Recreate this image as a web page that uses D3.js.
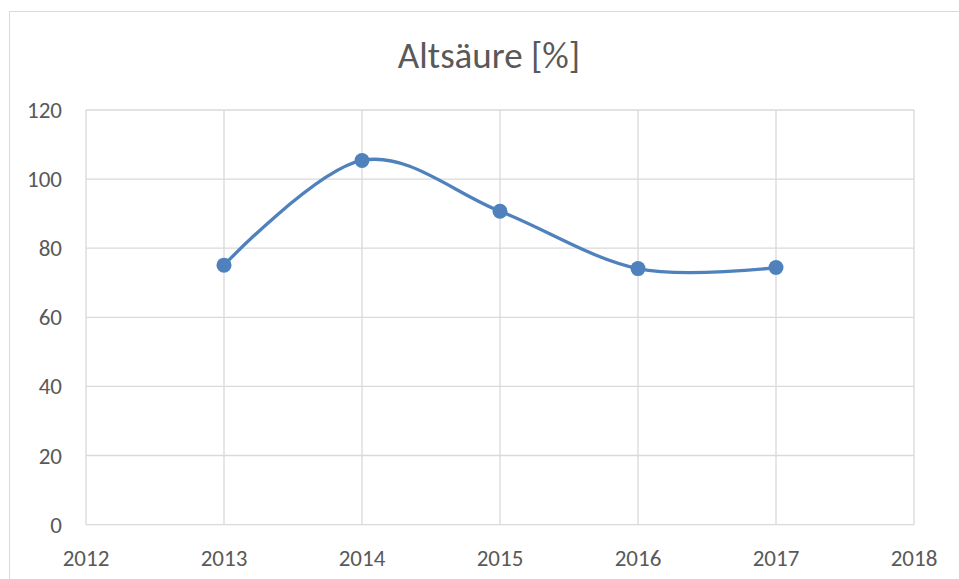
<!DOCTYPE html>
<html>
<head>
<meta charset="utf-8">
<script src="https://cdn.jsdelivr.net/npm/d3@7"></script>
<style>
  body { margin: 0; background: #fff; }
  text { font-family: Carlito, "Liberation Sans Narrow", "Open Sans", sans-serif; fill: #595959; }
</style>
</head>
<body>
<svg id="chart" width="959" height="579"></svg>
<script>
const title = 'Altsäure [%]'
const years = [2013, 2014, 2015, 2016, 2017]
const values = [75.1, 105.4, 90.7, 74.1, 74.4]
const xTicks = [2012, 2013, 2014, 2015, 2016, 2017, 2018]
const yTicks = [0, 20, 40, 60, 80, 100, 120]

const svg = d3.select('#chart')
const width = 959
const height = 579
const margin = { left: 86, right: 45, top: 110, bottom: 54 }

// chart border
svg.append('rect')
    .attr('x', 9.5).attr('y', 11.5)
    .attr('width', width + 20).attr('height', height + 20)
    .attr('fill', 'none')
    .attr('stroke', '#d9d9d9')

const x = d3.scaleLinear()
    .domain([2012, 2018])
    .range([margin.left, width - margin.right])
const y = d3.scaleLinear()
    .domain([0, 120])
    .range([height - margin.bottom - 0.4, margin.top])

// gridlines
svg.append('g')
    .selectAll('line')
    .data(yTicks)
    .join('line')
    .attr('x1', x(2012)).attr('x2', x(2018))
    .attr('y1', d => y(d)).attr('y2', d => y(d))
    .attr('stroke', '#d9d9d9')
    .attr('stroke-width', 1.3)
svg.append('g')
    .selectAll('line')
    .data(xTicks)
    .join('line')
    .attr('x1', d => x(d)).attr('x2', d => x(d))
    .attr('y1', y(0)).attr('y2', y(120))
    .attr('stroke', '#d9d9d9')
    .attr('stroke-width', 1.3)

// tick labels
svg.append('g')
    .selectAll('text')
    .data(yTicks)
    .join('text')
    .attr('x', 62)
    .attr('y', d => y(d))
    .attr('dy', '0.35em')
    .attr('text-anchor', 'end')
    .attr('font-size', 23)
    .text(d => d)
svg.append('g')
    .selectAll('text')
    .data(xTicks)
    .join('text')
    .attr('x', d => x(d))
    .attr('y', 558)
    .attr('dy', '0.35em')
    .attr('text-anchor', 'middle')
    .attr('font-size', 23)
    .text(d => d)

// title
svg.append('text')
    .attr('x', 489)
    .attr('y', 68)
    .attr('text-anchor', 'middle')
    .attr('font-size', 37)
    .text(title)

// series
const points = years.map((yr, i) => [x(yr), y(values[i])])
svg.append('path')
    .attr('d', d3.line().curve(d3.curveCardinal.tension(0))(points))
    .attr('fill', 'none')
    .attr('stroke', '#4f81bd')
    .attr('stroke-width', 3.3)
    .attr('stroke-linecap', 'round')

svg.append('g')
    .selectAll('circle')
    .data(points)
    .join('circle')
    .attr('cx', d => d[0])
    .attr('cy', d => d[1])
    .attr('r', 7.5)
    .attr('fill', '#4f81bd')
</script>
</body>
</html>
